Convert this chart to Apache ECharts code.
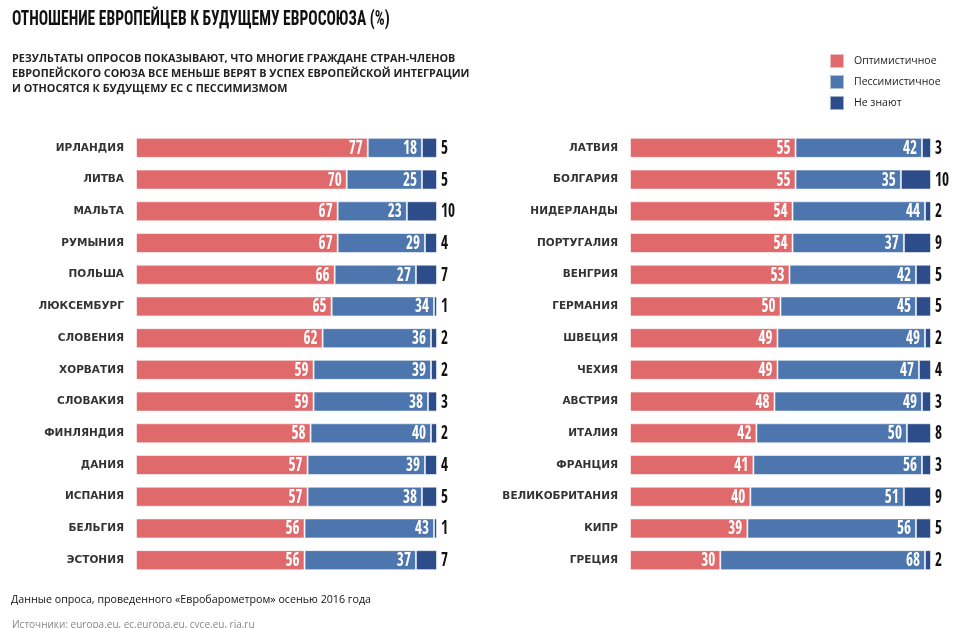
<!DOCTYPE html>
<html>
<head>
<meta charset="utf-8">
<script src="https://cdn.jsdelivr.net/npm/echarts@6/dist/echarts.min.js"></script>
<style>
  html, body { margin: 0; padding: 0; background: #fff; }
  #chart { width: 974px; height: 628px; }
</style>
</head>
<body>
<div id="chart"></div>
<script>
// Survey results: attitude towards the future of the EU (%)
const leftCountries = ['ИРЛАНДИЯ', 'ЛИТВА', 'МАЛЬТА', 'РУМЫНИЯ', 'ПОЛЬША', 'ЛЮКСЕМБУРГ', 'СЛОВЕНИЯ',
  'ХОРВАТИЯ', 'СЛОВАКИЯ', 'ФИНЛЯНДИЯ', 'ДАНИЯ', 'ИСПАНИЯ', 'БЕЛЬГИЯ', 'ЭСТОНИЯ'];
const leftOptimistic = [77, 70, 67, 67, 66, 65, 62, 59, 59, 58, 57, 57, 56, 56];
const leftPessimistic = [18, 25, 23, 29, 27, 34, 36, 39, 38, 40, 39, 38, 43, 37];
const leftUnknown = [5, 5, 10, 4, 7, 1, 2, 2, 3, 2, 4, 5, 1, 7];

const rightCountries = ['ЛАТВИЯ', 'БОЛГАРИЯ', 'НИДЕРЛАНДЫ', 'ПОРТУГАЛИЯ', 'ВЕНГРИЯ', 'ГЕРМАНИЯ', 'ШВЕЦИЯ',
  'ЧЕХИЯ', 'АВСТРИЯ', 'ИТАЛИЯ', 'ФРАНЦИЯ', 'ВЕЛИКОБРИТАНИЯ', 'КИПР', 'ГРЕЦИЯ'];
const rightOptimistic = [55, 55, 54, 54, 53, 50, 49, 49, 48, 42, 41, 40, 39, 30];
const rightPessimistic = [42, 35, 44, 37, 42, 45, 49, 47, 49, 50, 56, 51, 56, 68];
const rightUnknown = [3, 10, 2, 9, 5, 5, 2, 4, 3, 8, 3, 9, 5, 2];

const seriesNames = ['Оптимистичное', 'Пессимистичное', 'Не знают'];
const seriesColors = ['#e06a6b', '#4d76ae', '#2c4d8a'];

const numFont = '"Open Sans Condensed", "Roboto Condensed", sans-serif';
const plain = '"Open Sans", "Noto Sans", sans-serif';
const NUM_SCALE = 0.8;

const chart = echarts.init(document.getElementById('chart'));

// Stacked bars of one panel
function panelBars(idx, opt, pes, unk) {
  const base = {
    type: 'bar', stack: 'p' + idx, xAxisIndex: idx, yAxisIndex: idx,
    barWidth: 20
  };
  return [opt, pes, unk].map((d, k) => Object.assign({}, base, {
    name: seriesNames[k], data: d,
    itemStyle: { color: seriesColors[k], borderColor: 'rgba(255,255,255,0.55)', borderWidth: 1 }
  }));
}

// Value labels of one panel: narrow digits drawn at the segment ends
function panelLabels(idx, opt, pes, unk) {
  const rows = opt.map((v, i) => [i, v, pes[i], unk[i]]);
  return {
    type: 'custom', xAxisIndex: idx, yAxisIndex: idx, clip: false, silent: true,
    data: rows, z: 5,
    renderItem: function (params, api) {
      const i = api.value(0), o = api.value(1), p = api.value(2), u = api.value(3);
      const a = api.coord([o, i]), b = api.coord([o + p, i]), c = api.coord([o + p + u, i]);
      const txt = (x, y, s, fill, align) => ({
        type: 'text', x: x, y: y, scaleX: NUM_SCALE,
        style: { text: String(s), fill: fill, align: align, verticalAlign: 'middle',
          font: 'bold 19px ' + numFont }
      });
      return { type: 'group', children: [
        txt(a[0] - 5, a[1] + 1, o, '#fff', 'right'),
        txt(b[0] - 5, b[1] + 1, p, '#fff', 'right'),
        txt(c[0] + 4, c[1] + 1, u, '#111', 'left')
      ] };
    }
  };
}

function catAxis(idx, data) {
  return {
    type: 'category', gridIndex: idx, data: data, inverse: true,
    axisLine: { show: false }, axisTick: { show: false },
    axisLabel: { margin: 12, color: '#333', fontSize: 10.5, fontWeight: 'bold',
      fontFamily: '"DejaVu Sans", sans-serif' }
  };
}

function valAxis(idx) {
  return { type: 'value', gridIndex: idx, min: 0, max: 100, show: false };
}

chart.setOption({
  animation: false,
  graphic: [
    { type: 'text', x: 12, y: 20, scaleX: 0.74, style: { text: 'ОТНОШЕНИЕ ЕВРОПЕЙЦЕВ К БУДУЩЕМУ ЕВРОСОЮЗА (%)',
      font: 'bold 21px "Roboto Condensed", sans-serif', verticalAlign: 'middle', fill: '#111' } },
    { type: 'text', left: 12, top: 51, style: {
      text: 'РЕЗУЛЬТАТЫ ОПРОСОВ ПОКАЗЫВАЮТ, ЧТО МНОГИЕ ГРАЖДАНЕ СТРАН-ЧЛЕНОВ\nЕВРОПЕЙСКОГО СОЮЗА ВСЕ МЕНЬШЕ ВЕРЯТ В УСПЕХ ЕВРОПЕЙСКОЙ ИНТЕГРАЦИИ\nИ ОТНОСЯТСЯ К БУДУЩЕМУ ЕС С ПЕССИМИЗМОМ',
      fontFamily: plain, fontWeight: 'bold', fontSize: 10.8, lineHeight: 15, fill: '#222' } },
    { type: 'text', left: 11, top: 594, style: {
      text: 'Данные опроса, проведенного «Евробарометром» осенью 2016 года',
      fontFamily: plain, fontSize: 10.7, fill: '#111' } },
    { type: 'text', left: 12, top: 620, style: {
      text: 'Источники: europa.eu, ec.europa.eu, cvce.eu, ria.ru',
      fontFamily: plain, fontSize: 10, fill: '#888' } }
  ],
  legend: {
    data: seriesNames, orient: 'vertical', left: 829, top: 53, itemGap: 5, padding: 0,
    itemWidth: 14, itemHeight: 14, icon: 'rect',
    textStyle: { fontSize: 10.5, color: '#222', fontFamily: plain, padding: [0, 0, 0, 5] }
  },
  grid: [
    { left: 136, width: 301, top: 132, height: 444 },
    { left: 630, width: 301, top: 132, height: 444 }
  ],
  xAxis: [valAxis(0), valAxis(1)],
  yAxis: [catAxis(0, leftCountries), catAxis(1, rightCountries)],
  series: [].concat(
    panelBars(0, leftOptimistic, leftPessimistic, leftUnknown),
    panelBars(1, rightOptimistic, rightPessimistic, rightUnknown),
    [panelLabels(0, leftOptimistic, leftPessimistic, leftUnknown),
     panelLabels(1, rightOptimistic, rightPessimistic, rightUnknown)]
  )
});
</script>
</body>
</html>
